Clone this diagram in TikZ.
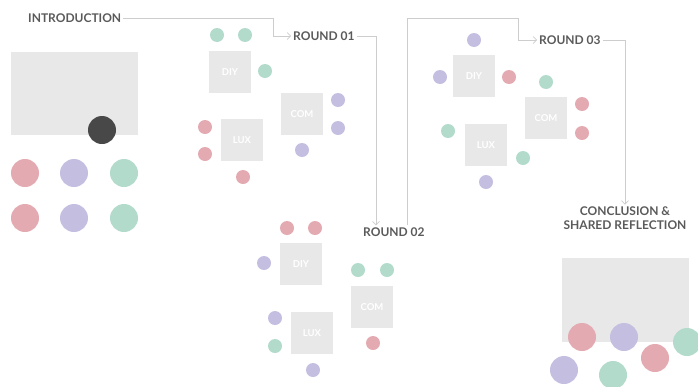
\documentclass[tikz,border=0pt]{standalone}
\usepackage{fontspec}
\setmainfont{Lato}
\usetikzlibrary{arrows.meta}
\definecolor{ink}{RGB}{90,90,90}
\definecolor{wire}{RGB}{205,205,205}
\definecolor{pad}{RGB}{232,232,232}
\definecolor{rose}{RGB}{228,170,177}
\definecolor{lilac}{RGB}{196,191,225}
\definecolor{mint}{RGB}{178,219,203}
\definecolor{coal}{RGB}{72,72,72}

\begin{document}
\begin{tikzpicture}[x=1pt,y=-1pt,
  stage/.style={text=ink,font=\bfseries\fontsize{12}{13.5}\selectfont,inner sep=2pt,align=center},
  seat/.style={fill=pad,minimum size=42pt,inner sep=0pt,text=white,
     font=\bfseries\fontsize{9.5}{11}\selectfont},
  flow/.style={draw=wire,line width=0.7pt,-{Straight Barb[length=3.5pt,width=7pt]}}]
\useasboundingbox (0,0) rectangle (698,386);
% titles
\node[stage,anchor=west] (intro) at (26,18) {INTRODUCTION};
\node[stage,anchor=west] (r1) at (291,36) {ROUND 01};
\node[stage,anchor=west] (r2) at (361,232) {ROUND 02};
\node[stage,anchor=west] (r3) at (537,40) {ROUND 03};
\node[stage] (concl) at (625,218) {CONCLUSION \&\\SHARED REFLECTION};
\coordinate (k1) at (273,18);
\coordinate (k2) at (376,36);
\coordinate (k3) at (407,18);
\coordinate (k4) at (518,18);
\draw[flow] (intro.east) -- (k1) |- (r1.west);
\draw[flow] (r1.east) -| (k2 |- r2.north);
\draw[flow] (k3 |- r2.north) -- (k3) -- (k4) |- (r3.west);
\draw[flow] (r3.east) -| (concl.north);
% introduction
\fill[pad] (11,52) rectangle (138,135);
\fill[coal] (102,130) circle (14pt);
\foreach \y in {173,218}{
  \fill[rose] (25,\y) circle (14pt);
  \fill[lilac] (74,\y) circle (14pt);
  \fill[mint] (124,\y) circle (14pt);}
% round 01
\node[seat] (diy1) at (230,72) {DIY};
\node[seat] (com1) at (302,114) {COM};
\node[seat] (lux1) at (242,140) {LUX};
\foreach \x/\y in {217/35,245/35,265/71} \fill[mint] (\x,\y) circle (7pt);
\foreach \x/\y in {338/100,338/128,302/150} \fill[lilac] (\x,\y) circle (7pt);
\foreach \x/\y in {205/127,205/154,243/177} \fill[rose] (\x,\y) circle (7pt);
% round 02
\node[seat] (diy2) at (301,264) {DIY};
\node[seat] (com2) at (372,307) {COM};
\node[seat] (lux2) at (312,333) {LUX};
\foreach \x/\y in {287/228,315/228,373/343} \fill[rose] (\x,\y) circle (7pt);
\foreach \x/\y in {264/263,275/318,313/370} \fill[lilac] (\x,\y) circle (7pt);
\foreach \x/\y in {358/270,387/270,275/346} \fill[mint] (\x,\y) circle (7pt);
% round 03
\node[seat] (diy3) at (474,76) {DIY};
\node[seat] (com3) at (546,118) {COM};
\node[seat] (lux3) at (486,145) {LUX};
\foreach \x/\y in {474/40,440/77,486/182} \fill[lilac] (\x,\y) circle (7pt);
\foreach \x/\y in {509/77,582/104,582/133} \fill[rose] (\x,\y) circle (7pt);
\foreach \x/\y in {546/82,448/131,523/158} \fill[mint] (\x,\y) circle (7pt);
% conclusion
\fill[pad] (562,258) rectangle (689,342);
\fill[rose] (582,337) circle (14pt);
\fill[lilac] (624,337) circle (14pt);
\fill[mint] (687,342) circle (14pt);
\fill[rose] (655,358) circle (14pt);
\fill[lilac] (564,370) circle (14pt);
\fill[mint] (613,375) circle (14pt);
\end{tikzpicture}
\end{document}
